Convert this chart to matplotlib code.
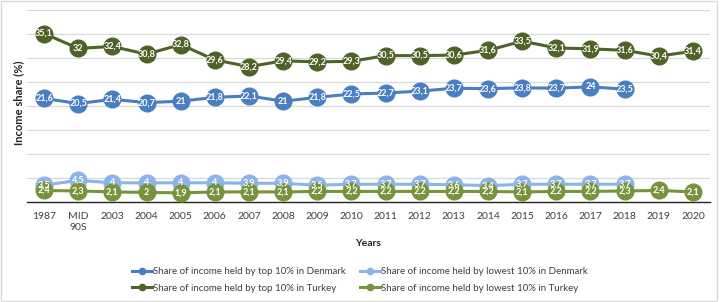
import matplotlib
matplotlib.use("Agg")
import matplotlib.pyplot as plt
import numpy as np
from matplotlib.patches import Rectangle

plt.rcParams['font.family'] = ['Lato', 'DejaVu Sans']

categories = ["1987", "MID\n90S", "2003", "2004", "2005", "2006", "2007", "2008", "2009",
              "2010", "2011", "2012", "2013", "2014", "2015", "2016", "2017", "2018", "2019", "2020"]
dk_top = [21.6, 20.5, 21.4, 20.7, 21, 21.8, 22.1, 21, 21.8, 22.5, 22.7, 23.1, 23.7, 23.6, 23.8, 23.7, 24, 23.5, None, None]
dk_low = [3.5, 4.5, 4, 4, 4, 4, 3.9, 3.9, 3.5, 3.7, 3.7, 3.7, 3.6, 3.4, 3.7, 3.7, 3.7, 3.7, None, None]
tr_top = [35.1, 32, 32.4, 30.8, 32.8, 29.6, 28.2, 29.4, 29.2, 29.3, 30.5, 30.5, 30.6, 31.6, 33.5, 32.1, 31.9, 31.6, 30.4, 31.4]
tr_low = [2.4, 2.3, 2.1, 2, 1.9, 2.1, 2.1, 2.1, 2.2, 2.2, 2.2, 2.2, 2.2, 2.2, 2.1, 2.2, 2.2, 2.3, 2.4, 2.1]

series = [
    ("Share of income held by top 10% in Denmark", dk_top, "#4A7EC2"),
    ("Share of income held by lowest 10% in Denmark", dk_low, "#8DB4E6"),
    ("Share of income held by top 10% in Turkey", tr_top, "#4F6228"),
    ("Share of income held by lowest 10% in Turkey", tr_low, "#77933C"),
]

fig = plt.figure(figsize=(7.2, 3.02), dpi=100)
ax = fig.add_axes([27/720, 1-202/302, 683/720, 192/302])

x = np.arange(len(categories))
handles = {}
for i, (name, vals, col) in enumerate(series):
    xs = [xi for xi, v in zip(x, vals) if v is not None]
    ys = [v for v in vals if v is not None]
    ax.plot(xs, ys, color=col, lw=2.2, zorder=3+i)
    ax.plot(xs, ys, 'o', color=col, ms=12, zorder=3+i)
    h, = ax.plot([], [], color=col, lw=2.2, marker='o', ms=4.5)
    handles[name] = h
    for xi, v in zip(xs, ys):
        lab = ("%g" % v).replace('.', ',')
        ax.text(xi, v, lab, ha='center', va='center', color='white', fontsize=6.5,
                fontweight='bold', zorder=20)

ax.set_xlim(-0.5, len(categories)-0.5)
ax.set_ylim(0, 40)
ax.set_yticks(np.arange(0, 41, 5))
ax.yaxis.grid(True, color='#D9D9D9', lw=0.9)
ax.set_axisbelow(True)
ax.tick_params(axis='y', left=False, labelleft=False)
ax.tick_params(axis='x', bottom=False, labelsize=7.5, colors='#404040', pad=4)
ax.set_xticks(x)
ax.set_xticklabels(categories)
for s in ['top', 'right', 'left']:
    ax.spines[s].set_visible(False)
ax.spines['bottom'].set_color('#262626')
ax.spines['bottom'].set_linewidth(1.0)

fig.text(368/720, 1-243/302, "Years", ha='center', va='center', fontsize=7.5,
         fontweight='bold', color='#262626')
fig.text(19/720, 1-103/302, "Income share (%)", ha='center', va='center', rotation=90,
         fontsize=8, fontweight='bold', color='#262626')

order = [series[0][0], series[2][0], series[1][0], series[3][0]]
leg = fig.legend([handles[n] for n in order], order, ncol=2, loc='center',
                 bbox_to_anchor=(360/720, 1-280/302), frameon=False, fontsize=7.0,
                 handlelength=2.1, handletextpad=0.1, columnspacing=1.4, labelspacing=0.8)
for t in leg.get_texts():
    t.set_color('#404040')

fig.patches.append(Rectangle((0.002, 0.003), 0.994, 0.994, transform=fig.transFigure,
                             fill=False, edgecolor='#D9D9D9', lw=1))

fig.savefig("out.png", dpi=100)
